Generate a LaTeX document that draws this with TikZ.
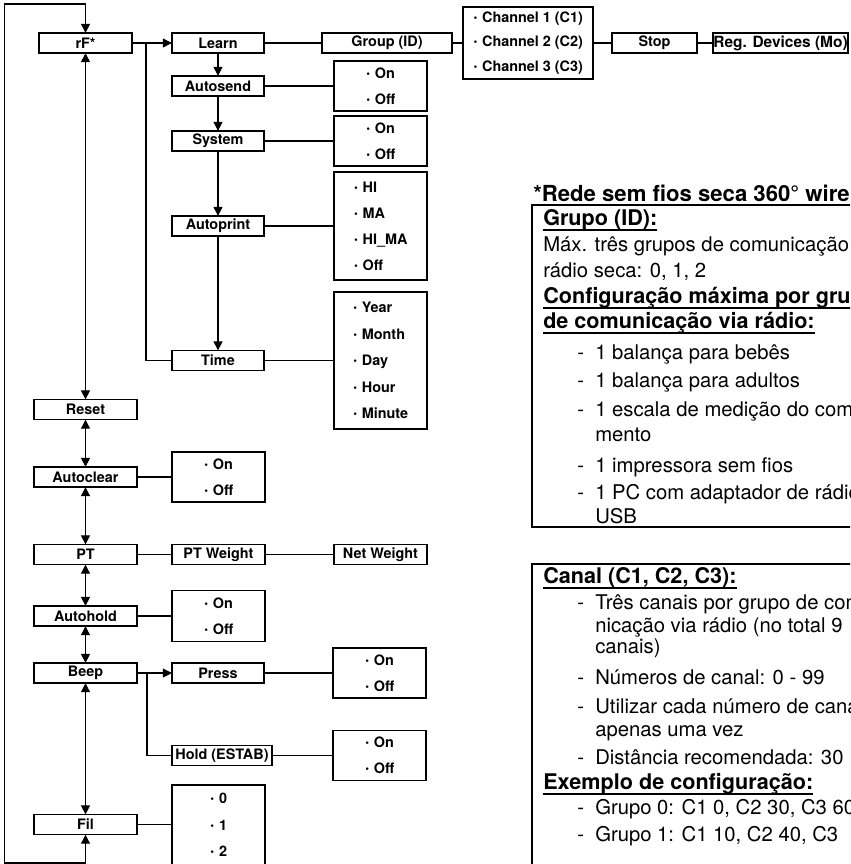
\documentclass[tikz,border=0pt]{standalone}
\usepackage{fontspec}
\setmainfont{TeX Gyre Heros}
\usetikzlibrary{arrows.meta}
\newcommand\pxx[1]{#1*0.75pt}
\newcommand\myul[1]{\setbox0\hbox{#1}\rlap{\rule[-4.3pt]{\wd0}{1.1pt}}\box0}
\newcommand\bul{{\fontsize{13}{13}\selectfont·}\hspace{3.2pt}}
\begin{document}
\begin{tikzpicture}[x=0.75pt,y=-0.75pt,
  box/.style={draw, line width=0.9pt, inner sep=0pt, outer sep=0pt, font=\bfseries\fontsize{10.8}{13}\selectfont, minimum height=\pxx{20}},
  lbox/.style={box, minimum width=\pxx{103}},
  mbox/.style={box, minimum width=\pxx{92}},
  opt/.style={draw, line width=0.9pt, inner sep=0pt, outer sep=0pt, align=left, font=\bfseries\fontsize{10.8}{19.5}\selectfont, minimum width=\pxx{93}},
  optw/.style={opt, font=\bfseries\fontsize{10.8}{19.9}\selectfont},
  con/.style={line width=0.8pt},
  arr/.style={con, -{Triangle[length=6.8pt,width=6.6pt]}},
  darr/.style={con, {Triangle[length=6.8pt,width=6.6pt]}-{Triangle[length=6.8pt,width=6.6pt]}},
  body/.style={anchor=base west, inner sep=0pt, font=\fontsize{15.2}{18}\selectfont},
  head/.style={anchor=base west, inner sep=0pt, font=\bfseries\fontsize{16.2}{18}\selectfont},
  panel/.style={draw, line width=1pt},
]
\fill[white] (0,0) rectangle (850,864);
\useasboundingbox (0,0) rectangle (850,864);
\clip (0,0) rectangle (850,864);

% top row
\node[box, minimum width=\pxx{93}] (rf) at (85.5,43) {rF*};
\node[mbox] (learn) at (218,43) {Learn};
\node[box, minimum width=\pxx{130}] (group) at (387,43) {Group (ID)};
\node[opt, minimum width=\pxx{130}, minimum height=\pxx{72}, font=\bfseries\fontsize{10.8}{18.4}\selectfont] (chan) at (528,43) {\bul Channel 1 (C1)\\\bul Channel 2 (C2)\\\bul Channel 3 (C3)};
\node[box, minimum width=\pxx{85}] (stop) at (654.5,43) {Stop};
\node[box, minimum width=\pxx{135}, font=\bfseries\fontsize{11.6}{13}\selectfont] (reg) at (780.5,43) {Reg. Devices (Mo)};

% learn column
\node[mbox] (autosend) at (218,86) {Autosend};
\node[opt, minimum height=\pxx{50}] (o1) at (380.5,86) {\bul On\\\bul Off};
\node[mbox] (system) at (218,141) {System};
\node[opt, minimum height=\pxx{50}] (o2) at (380.5,141) {\bul On\\\bul Off};
\node[mbox] (autoprint) at (218,226) {Autoprint};
\node[opt, minimum height=\pxx{108}] (o3) at (380.5,226) {\bul HI\\\bul MA\\\bul HI\_MA\\\bul Off};
\node[mbox] (time) at (218,360.5) {Time};
\node[optw, minimum height=\pxx{137}] (o4) at (380.5,360.5) {\bul Year\\\bul Month\\\bul Day\\\bul Hour\\\bul Minute};

% main column
\node[lbox] (reset) at (85.5,409.5) {Reset};
\node[lbox] (autoclear) at (85.5,477) {Autoclear};
\node[opt, minimum height=\pxx{50}] (o5) at (218.5,477) {\bul On\\\bul Off};
\node[lbox] (pt) at (85.5,554.5) {PT};
\node[box, minimum width=\pxx{93}] (ptw) at (218.5,554.5) {PT Weight};
\node[box, minimum width=\pxx{93}] (netw) at (380.5,554.5) {Net Weight};
\node[lbox] (autohold) at (85.5,616) {Autohold};
\node[opt, minimum height=\pxx{51}] (o6) at (218.5,616) {\bul On\\\bul Off};
\node[lbox] (beep) at (85.5,673) {Beep};
\node[mbox] (press) at (218,673) {Press};
\node[opt, minimum height=\pxx{50}] (o7) at (379.5,673) {\bul On\\\bul Off};
\node[box, minimum width=\pxx{100}] (hold) at (222,755.5) {Hold (ESTAB)};
\node[opt, minimum height=\pxx{50}] (o8) at (379.5,755.5) {\bul On\\\bul Off};
\node[lbox] (fil) at (85.5,824.5) {Fil};
\node[optw, minimum height=\pxx{80}] (o9) at (218.5,825) {\bul 0\\\bul 1\\\bul 2};

% connectors
\coordinate (tl) at (4.5,4);
\coordinate (bl) at (4.5,863);
\coordinate (br1) at (146,43);
\coordinate (br2) at (147,673);
\draw[darr] (fil.south) -- (fil.south |- bl) -- (bl) -- (tl) -- (tl -| rf.north) -- (rf.north);
\draw[darr] (rf.south) -- (reset.north);
\draw[darr] (reset.south) -- (autoclear.north);
\draw[darr] (autoclear.south) -- (pt.north);
\draw[darr] (pt.south) -- (autohold.north);
\draw[darr] (autohold.south) -- (beep.north);
\draw[darr] (beep.south) -- (fil.north);

\draw[arr] (rf.east) -- (learn.west);
\draw[con] (br1) |- (time.west);
\draw[con] (learn.east) -- (group.west);
\draw[con] (group.east) -- (chan.west);
\draw[con] (chan.east) -- (stop.west);
\draw[con] (stop.east) -- (reg.west);
\draw[arr] (learn.south) -- (autosend.north);
\draw[arr] (autosend.south) -- (system.north);
\draw[arr] (system.south) -- (autoprint.north);
\draw[arr] (autoprint.south) -- (time.north);
\draw[con] (autosend.east) -- (autosend.east -| o1.west);
\draw[con] (system.east) -- (system.east -| o2.west);
\draw[con] (autoprint.east) -- (autoprint.east -| o3.west);
\draw[con] (time.east) -- (time.east -| o4.west);
\draw[con] (autoclear.east) -- (autoclear.east -| o5.west);
\draw[con] (pt.east) -- (ptw.west);
\draw[con] (ptw.east) -- (netw.west);
\draw[con] (autohold.east) -- (autohold.east -| o6.west);
\draw[arr] (beep.east) -- (press.west);
\draw[con] (br2) |- (hold.west);
\draw[con] (press.east) -- (press.east -| o7.west);
\draw[con] (hold.east) -- (hold.east -| o8.west);
\draw[con] (fil.east) -- (fil.east -| o9.west);

% right notes
\node[head, font=\bfseries\fontsize{16.6}{18}\selectfont] (title) at (533,201) {*Rede sem fios seca 360° wireless};
\draw[panel] (532,205) rectangle (900,527);
\node[head] (g1) at (543,225) {\myul{Grupo (ID):}};
\node[body] (g2) at (543,251) {Máx. três grupos de comunicação};
\node[body] (g3) at (543,277) {rádio seca: 0, 1, 2};
\node[head] (g4) at (543,303) {\myul{Configuração máxima por grupo}};
\node[head] (g5) at (543,328) {\myul{de comunicação via rádio:}};
\node[body] (d1) at (577,359) {-};
\node[body] (i1) at (595,359) {1 balança para bebês};
\node[body] (d2) at (577,387) {-};
\node[body] (i2) at (595,387) {1 balança para adultos};
\node[body] (d3) at (577,416) {-};
\node[body] (i3) at (595,416) {1 escala de medição do compri-};
\node[body] (i3b) at (595,441) {mento};
\node[body] (d4) at (577,472) {-};
\node[body] (i4) at (595,472) {1 impressora sem fios};
\node[body] (d5) at (577,499) {-};
\node[body] (i5) at (595,499) {1 PC com adaptador de rádio};
\node[body] (i5b) at (595,523) {USB};

\draw[panel] (532,564) rectangle (900,900);
\node[head] (c1) at (543,583) {\myul{Canal (C1, C2, C3):}};
\node[body] (e1) at (577,609) {-};
\node[body] (j1) at (595,609) {Três canais por grupo de comu-};
\node[body] (j1b) at (595,632) {nicação via rádio (no total 9};
\node[body] (j1c) at (595,653) {canais)};
\node[body] (e2) at (577,684) {-};
\node[body] (j2) at (595,684) {Números de canal: 0 - 99};
\node[body] (e3) at (577,713) {-};
\node[body] (j3) at (595,713) {Utilizar cada número de canal};
\node[body] (j3b) at (595,736) {apenas uma vez};
\node[body] (e4) at (577,764) {-};
\node[body] (j4) at (595,764) {Distância recomendada: 30};
\node[head] (c2) at (543,789) {\myul{Exemplo de configuração:}};
\node[body] (e5) at (577,814) {-};
\node[body] (j5) at (595,814) {Grupo 0: C1 0, C2 30, C3 60};
\node[body] (e6) at (577,841) {-};
\node[body] (j6) at (595,841) {Grupo 1: C1 10, C2 40, C3};
\end{tikzpicture}
\end{document}
